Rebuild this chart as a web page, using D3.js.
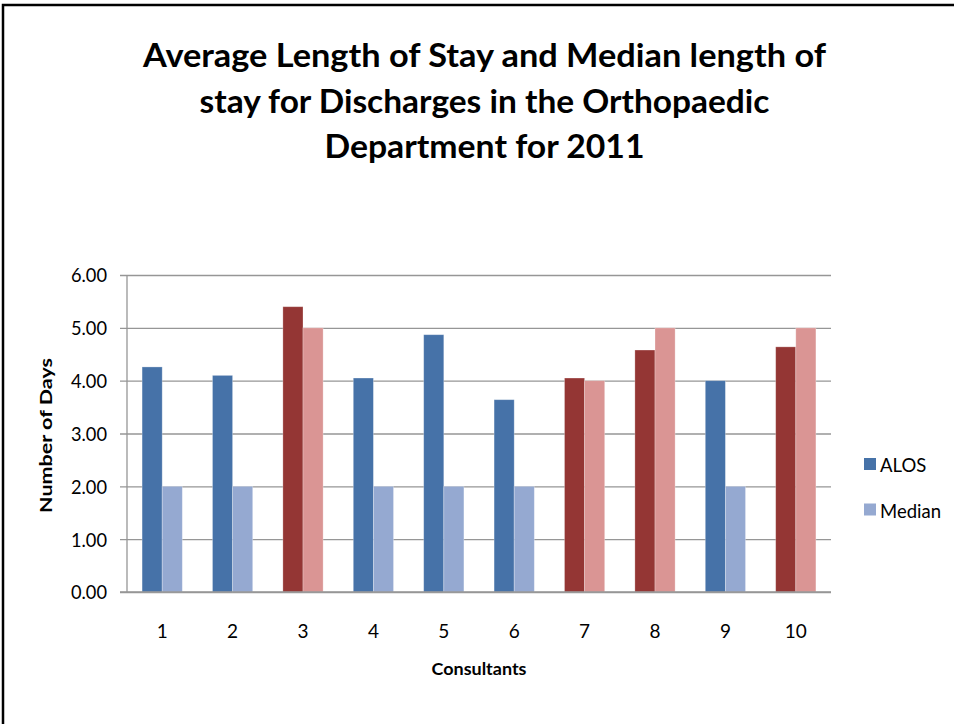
<!DOCTYPE html>
<html>
<head>
<meta charset="utf-8">
<script src="https://cdn.jsdelivr.net/npm/d3@7"></script>
<style>
  html, body { margin: 0; padding: 0; background: #fff; }
  svg { display: block; }
  text { font-family: Lato, "Open Sans", sans-serif; fill: #000; }
</style>
</head>
<body>
<svg id="chart" width="954" height="724"></svg>
<script>
// Consultants on the x axis
const consultants = ["1", "2", "3", "4", "5", "6", "7", "8", "9", "10"];
// Average length of stay (days) per consultant
const alos = [4.26, 4.10, 5.40, 4.05, 4.87, 3.64, 4.05, 4.58, 4.00, 4.64];
// Median length of stay (days) per consultant
const median = [2, 2, 5, 2, 2, 2, 4, 5, 2, 5];
// Consultants shown in the red palette
const highlighted = ["3", "7", "8", "10"];
const seriesNames = ["ALOS", "Median"];
const yTicks = [0, 1, 2, 3, 4, 5, 6];
const titleLines = [
  "Average Length of Stay and Median length of",
  "stay for Discharges in the Orthopaedic",
  "Department for 2011"
];

const colors = {
  ALOS: "#4672A8", Median: "#95A9D1",
  ALOS_hi: "#943634", Median_hi: "#DA9594"
};

const svg = d3.select("#chart");
const margin = { left: 127, right: 831, top: 275, bottom: 592 };

// Outer frame (top and left edges)
svg.append("path")
  .attr("d", "M3,724V5H954")
  .attr("fill", "none")
  .attr("stroke", "#000")
  .attr("stroke-width", 2.5);

// Title
const titleWidths = [683, 570, 320];
svg.append("g").selectAll("text")
  .data(titleLines)
  .join("text")
  .attr("x", 484.5)
  .attr("y", (d, i) => 67 + i * 45.5)
  .attr("text-anchor", "middle")
  .attr("font-weight", "bold")
  .attr("font-size", 33)
  .attr("textLength", (d, i) => titleWidths[i])
  .attr("lengthAdjust", "spacingAndGlyphs")
  .text(d => d);

// Scales
const x0 = d3.scaleBand()
  .domain(consultants)
  .range([margin.left, margin.right])
  .paddingInner(1.5 / 3.5)
  .paddingOuter(0.75 / 3.5);

const x1 = d3.scaleBand()
  .domain(seriesNames)
  .range([0, x0.bandwidth()]);

const y = d3.scaleLinear()
  .domain([0, 6])
  .range([margin.bottom, margin.top]);

// Gridlines with small outside ticks
const yAxis = d3.axisLeft(y)
  .tickValues(yTicks)
  .tickSize(-(margin.right - margin.left))
  .tickSizeOuter(0)
  .tickPadding(20)
  .tickFormat(d3.format(".2f"));

const yG = svg.append("g")
  .attr("transform", `translate(${margin.left},0)`)
  .call(yAxis);
yG.select(".domain").remove();
yG.selectAll(".tick line")
  .attr("x1", -7)
  .attr("stroke", "#969696")
  .attr("stroke-width", 1.3);
yG.selectAll(".tick text")
  .attr("font-family", "Lato, 'Open Sans', sans-serif")
  .attr("font-size", 19)
  .attr("fill", "#222")
  .attr("x", -20)
  .attr("dy", "0.36em")
  .attr("textLength", 36)
  .attr("lengthAdjust", "spacingAndGlyphs");

// Vertical axis line
svg.append("line")
  .attr("x1", margin.left).attr("x2", margin.left)
  .attr("y1", margin.top).attr("y2", margin.bottom)
  .attr("stroke", "#969696")
  .attr("stroke-width", 1.3);

// Bars
const rows = consultants.map((c, i) => ({ c, ALOS: alos[i], Median: median[i] }));
const groups = svg.append("g").selectAll("g")
  .data(rows)
  .join("g")
  .attr("transform", d => `translate(${x0(d.c)},0)`);

groups.selectAll("rect")
  .data(d => seriesNames.map(k => ({ key: k, value: d[k], hi: highlighted.includes(d.c) })))
  .join("rect")
  .attr("x", d => x1(d.key))
  .attr("width", x1.bandwidth())
  .attr("y", d => y(d.value))
  .attr("height", d => y(0) - y(d.value))
  .attr("fill", d => colors[d.hi ? d.key + "_hi" : d.key])
  .attr("stroke", "rgba(255,255,255,0.35)")
  .attr("stroke-width", 0.8);

// Baseline redrawn above bars
svg.append("line")
  .attr("x1", margin.left - 7).attr("x2", margin.right)
  .attr("y1", y(0)).attr("y2", y(0))
  .attr("stroke", "#969696")
  .attr("stroke-width", 1.3);

// Category labels
const xAxis = d3.axisBottom(x0).tickSize(0).tickPadding(0);
const xG = svg.append("g")
  .attr("transform", `translate(0,${margin.bottom})`)
  .call(xAxis);
xG.select(".domain").remove();
xG.selectAll(".tick text")
  .attr("font-family", "Lato, 'Open Sans', sans-serif")
  .attr("font-size", 19)
  .attr("fill", "#222")
  .attr("y", 46)
  .attr("dy", 0);

// Axis titles
svg.append("text")
  .attr("x", (margin.left + margin.right) / 2)
  .attr("y", 675)
  .attr("text-anchor", "middle")
  .attr("font-weight", "bold")
  .attr("font-size", 17.5)
  .attr("textLength", 95)
  .attr("lengthAdjust", "spacingAndGlyphs")
  .text("Consultants");

svg.append("text")
  .attr("transform", `translate(52,${(margin.top + margin.bottom) / 2 + 2}) rotate(-90)`)
  .attr("text-anchor", "middle")
  .attr("font-weight", "bold")
  .attr("font-size", 17.5)
  .attr("textLength", 155)
  .attr("lengthAdjust", "spacingAndGlyphs")
  .text("Number of Days");

// Legend
const legend = svg.append("g").selectAll("g")
  .data(seriesNames)
  .join("g")
  .attr("transform", (d, i) => `translate(864,${458 + i * 45.5})`);
legend.append("rect")
  .attr("width", 12).attr("height", 12)
  .attr("fill", d => colors[d]);
legend.append("text")
  .attr("x", 16)
  .attr("y", 14)
  .attr("font-size", 18.5)
  .attr("fill", "#222")
  .text(d => d);
</script>
</body>
</html>
